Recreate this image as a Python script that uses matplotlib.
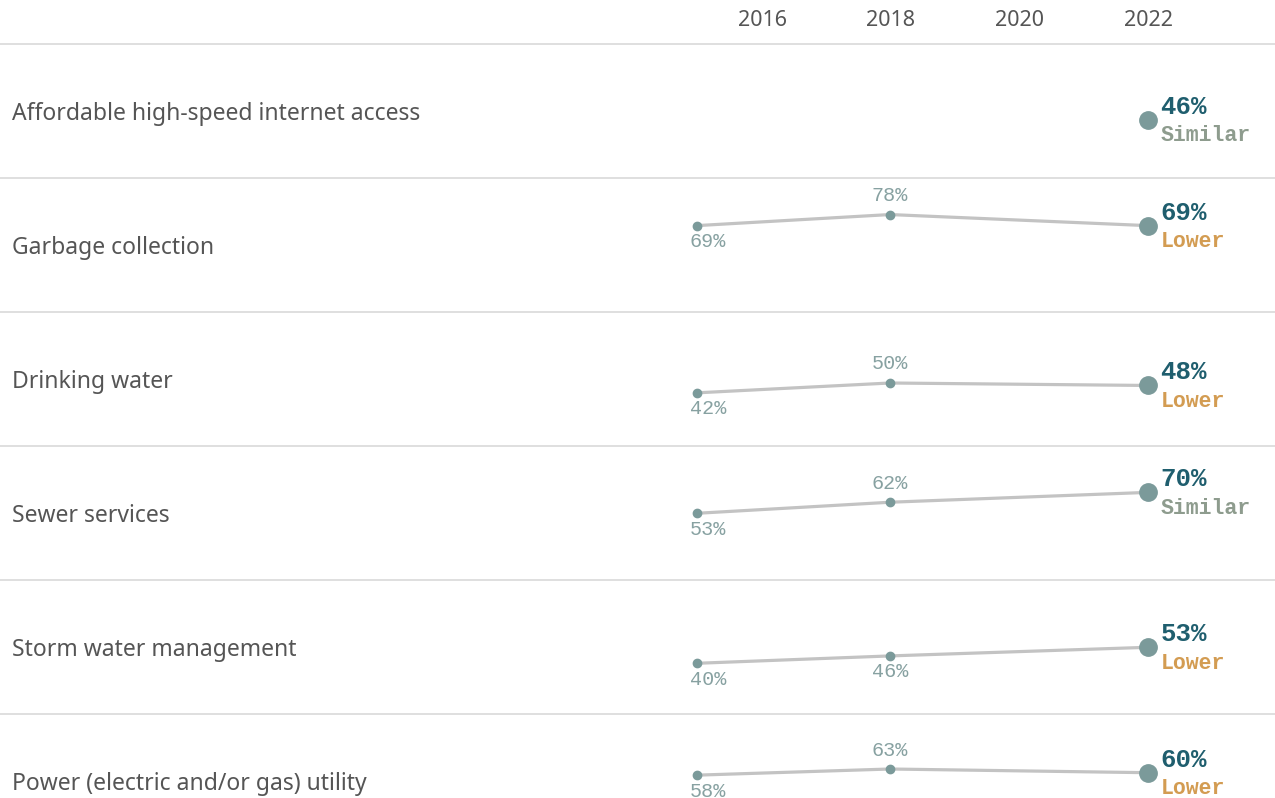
import matplotlib
matplotlib.use('Agg')
import matplotlib.pyplot as plt

# 数据
categories = ['Affordable high-speed internet access', 'Garbage collection', 'Drinking water',
              'Sewer services', 'Storm water management', 'Power (electric and/or gas) utility']
years = [2015, 2018, 2022]
v2015 = [None, 69, 42, 53, 40, 58]
v2018 = [None, 78, 50, 62, 46, 63]
v2022 = [46, 69, 48, 70, 53, 60]
status = ['Similar', 'Lower', 'Lower', 'Similar', 'Lower', 'Lower']
header_years = [2016, 2018, 2020, 2022]
mid_label_below = ['Storm water management']

W, H = 1275, 798
fig = plt.figure(figsize=(W / 100, H / 100), dpi=100)

# 像素 -> 年份 映射
px_per_year = 64.4
x0 = 2018 - 890 / px_per_year
x1 = 2018 + (W - 890) / px_per_year

top, row_h = 44, 134
sans = ['Noto Sans', 'DejaVu Sans']
mono = ['Liberation Mono', 'DejaVu Sans Mono']

dot_c = '#7b9a9a'
line_c = '#c3c3c3'
small_txt = '#87a1a1'
val_c = '#1f5e6e'
status_c = {'Similar': '#8e9c8e', 'Lower': '#d39c52'}
sep_c = '#d9d9d9'

# 表头
hax = fig.add_axes([0, 1 - top / H, 1, top / H])
hax.set_xlim(x0, x1)
hax.set_ylim(0, 1)
hax.axis('off')
for yr in header_years:
    hax.text(yr + 1 / px_per_year, 0.53, str(yr), ha='center', va='center', fontsize=15.5,
             color='#555555', family=sans)

for i, cat in enumerate(categories):
    bottom_px = top + row_h * (i + 1)
    ax = fig.add_axes([0, 1 - bottom_px / H, 1, row_h / H])
    ax.set_xlim(x0, x1)
    ax.set_ylim(-1.2, 107.7)
    ax.set_xticks([])
    ax.set_yticks([])
    for s in ['left', 'right', 'bottom']:
        ax.spines[s].set_visible(False)
    ax.spines['top'].set_color(sep_c)
    ax.spines['top'].set_linewidth(1.2)

    ax.text(12 / W, 0.5 - 2.5 / row_h, cat, transform=ax.transAxes, ha='left', va='center',
            fontsize=16.5, color='#555555', family=sans)

    vals = [v2015[i], v2018[i], v2022[i]]
    if v2015[i] is not None:
        ax.plot(years, vals, color=line_c, lw=2.3, zorder=2, solid_capstyle='butt')
        ax.plot(years[:2], vals[:2], 'o', color=dot_c, ms=6, zorder=3)
        ax.annotate(f'{v2015[i]}%', xy=(years[0], v2015[i]), xytext=(-7, -16),
                    textcoords='offset pixels', ha='left', va='center',
                    fontsize=14.5, color=small_txt, family=mono)
        dy = -16 if cat in mid_label_below else 19
        ax.annotate(f'{v2018[i]}%', xy=(years[1], v2018[i]), xytext=(0, dy),
                    textcoords='offset pixels', ha='center', va='center',
                    fontsize=14.5, color=small_txt, family=mono)
    ax.plot([years[2]], [v2022[i]], 'o', color=dot_c, ms=12.5, zorder=4)
    ax.annotate(f'{v2022[i]}%', xy=(years[2], v2022[i]), xytext=(13, 13),
                textcoords='offset pixels', ha='left', va='center',
                fontsize=18.5, color=val_c, family=mono, weight='bold')
    ax.annotate(status[i], xy=(years[2], v2022[i]), xytext=(13, -16),
                textcoords='offset pixels', ha='left', va='center',
                fontsize=15.5, color=status_c[status[i]], family=mono, weight='bold')

fig.savefig('out.png', dpi=100)
